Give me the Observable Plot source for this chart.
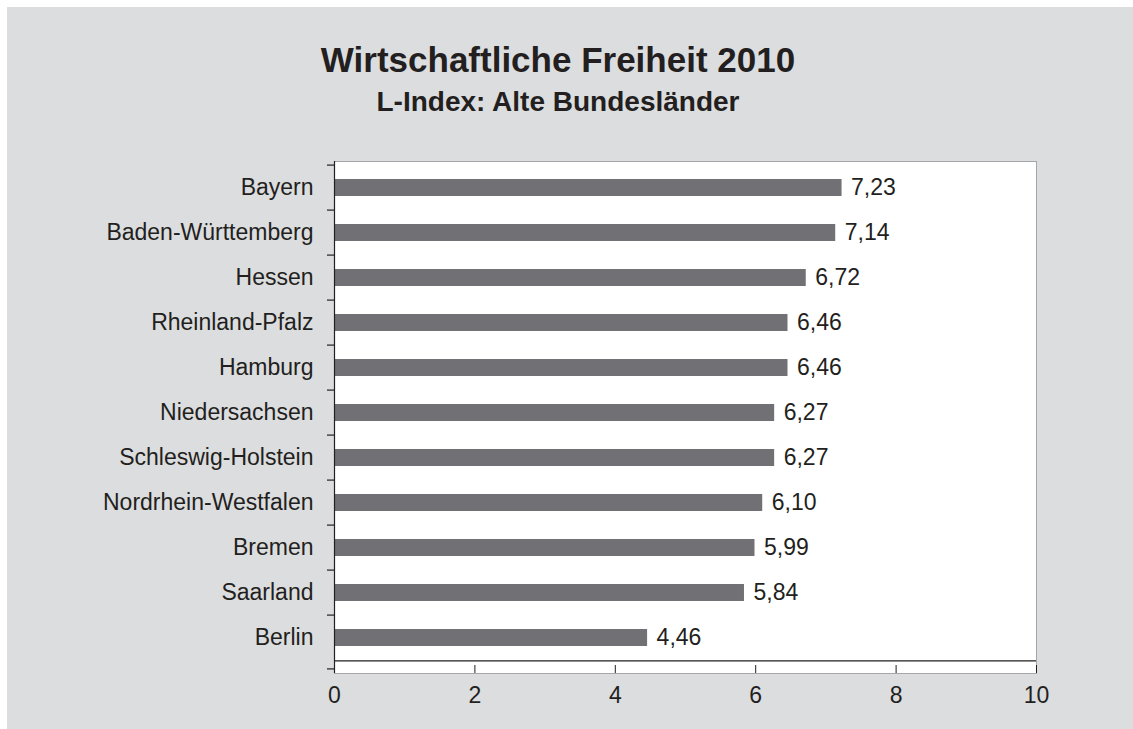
<!DOCTYPE html>
<html>
<head>
<meta charset="utf-8">
<script src="https://cdn.jsdelivr.net/npm/d3@7"></script>
<script src="https://cdn.jsdelivr.net/npm/@observablehq/plot@0.6"></script>
<style>
  html, body { margin: 0; padding: 0; background: #ffffff; }
  #wrap { position: relative; width: 1133px; height: 729px; overflow: hidden; background: #ffffff; }
  #panel { position: absolute; left: 7px; top: 7px; width: 1126px; height: 722px; background: #dcdddf;
           font-family: "Liberation Sans", Arial, Helvetica, sans-serif; color: #231f20; }
  #title { position: absolute; left: 0; top: 33px; width: 1102px; text-align: center;
           font-size: 35px; font-weight: bold; line-height: 40px; white-space: nowrap; }
  #subtitle { position: absolute; left: 0; top: 79px; width: 1102px; text-align: center;
              font-size: 28px; font-weight: bold; line-height: 32px; white-space: nowrap; }
  #chart { position: absolute; left: 0; top: 123px; }
</style>
</head>
<body>
<div id="wrap">
  <div id="panel">
    <div id="title">Wirtschaftliche Freiheit 2010</div>
    <div id="subtitle">L-Index: Alte Bundesländer</div>
    <div id="chart"></div>
  </div>
</div>
<script>
const categories = ["Bayern", "Baden-Württemberg", "Hessen", "Rheinland-Pfalz", "Hamburg",
  "Niedersachsen", "Schleswig-Holstein", "Nordrhein-Westfalen", "Bremen", "Saarland", "Berlin"];
const values = [7.23, 7.14, 6.72, 6.46, 6.46, 6.27, 6.27, 6.10, 5.99, 5.84, 4.46];
const xTicks = [0, 2, 4, 6, 8, 10];

const data = categories.map((name, i) => ({name, value: values[i]}));
const fmt = v => d3.format(".2f")(v).replace(".", ",");

const W = 1126, H = 599;
const mTop = 31, mBottom = 64, mLeft = 327, mRight = 97;
const step = (H - mTop - mBottom) / categories.length;
const dark = "#231f20";

const chart = Plot.plot({
  width: W,
  height: H,
  marginTop: mTop,
  marginBottom: mBottom,
  marginLeft: mLeft,
  marginRight: mRight,
  style: {fontFamily: '"Liberation Sans", Arial, Helvetica, sans-serif', fontSize: "23px", color: dark, background: "transparent", overflow: "visible"},
  x: {domain: [0, 10]},
  y: {domain: categories, paddingInner: 0.62, paddingOuter: 0.31},
  marks: [
    Plot.frame({fill: "#ffffff", stroke: "#a6a6a8", insetBottom: -8}),
    Plot.barX(data, {x: "value", y: "name", fill: "#717175"}),
    Plot.text(data, {x: "value", y: "name", text: d => fmt(d.value), textAnchor: "start", dx: 9, fill: dark}),
    Plot.ruleX([0], {stroke: dark, strokeWidth: 1.2, insetBottom: -8}),
    Plot.ruleY([categories[categories.length - 1]], {dy: step / 2, stroke: dark, strokeWidth: 1.2}),
    Plot.ruleY(categories, {y: d => d, x1: 0, x2: 0, insetLeft: -7, dy: -step / 2, stroke: dark, strokeWidth: 1.2}),
    Plot.ruleY([categories[categories.length - 1]], {x1: 0, x2: 0, insetLeft: -7, dy: step / 2 + 8, stroke: dark, strokeWidth: 1.2}),
    Plot.axisX({ticks: xTicks, tickFormat: d => String(d), tickSize: 8, tickPadding: 13, label: null, stroke: dark}),
    Plot.axisY({tickSize: 0, tickPadding: 21, label: null})
  ]
});
document.getElementById("chart").appendChild(chart);
</script>
</body>
</html>
